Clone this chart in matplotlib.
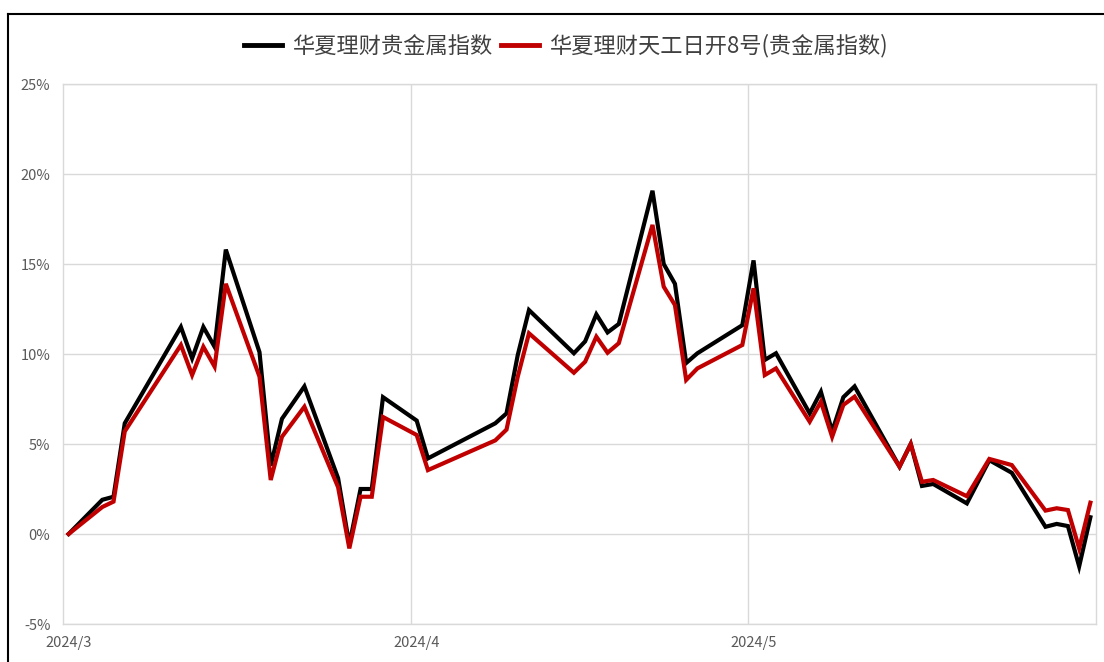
import matplotlib
matplotlib.use("Agg")
import matplotlib.pyplot as plt
import matplotlib.dates as mdates
from matplotlib.lines import Line2D
from matplotlib.ticker import FixedLocator, FuncFormatter
import pandas as pd

plt.rcParams['font.family'] = ['Noto Sans CJK SC', 'DejaVu Sans']

dates = ["2024-03-01", "2024-03-04", "2024-03-05", "2024-03-06", "2024-03-11", "2024-03-12",
         "2024-03-13", "2024-03-14", "2024-03-15", "2024-03-18", "2024-03-19", "2024-03-20",
         "2024-03-22", "2024-03-25", "2024-03-26", "2024-03-27", "2024-03-28", "2024-03-29",
         "2024-04-01", "2024-04-02", "2024-04-08", "2024-04-09", "2024-04-10", "2024-04-11",
         "2024-04-15", "2024-04-16", "2024-04-17", "2024-04-18", "2024-04-19", "2024-04-22",
         "2024-04-23", "2024-04-24", "2024-04-25", "2024-04-26", "2024-04-30", "2024-05-01",
         "2024-05-02", "2024-05-03", "2024-05-06", "2024-05-07", "2024-05-08", "2024-05-09",
         "2024-05-10", "2024-05-14", "2024-05-15", "2024-05-16", "2024-05-17", "2024-05-20",
         "2024-05-22", "2024-05-24", "2024-05-27", "2024-05-28", "2024-05-29", "2024-05-30",
         "2024-05-31"]

index_black = [0, 1.9, 2.07, 6.15, 11.5, 9.76,
               11.5, 10.4, 15.8, 10.1, 3.8, 6.4,
               8.2, 3.1, -0.6, 2.5, 2.5, 7.6,
               6.3, 4.2, 6.15, 6.7, 9.94, 12.44,
               10.04, 10.7, 12.2, 11.2, 11.67, 19.07,
               15.0, 13.9, 9.5, 10.04, 11.6, 15.2,
               9.67, 10.04, 6.7, 7.9, 5.7, 7.6,
               8.2, 3.74, 5.0, 2.67, 2.78, 1.7,
               4.1, 3.4, 0.4, 0.56, 0.44, -1.8,
               0.93]

product_red = [0, 1.5, 1.8, 5.7, 10.5, 8.83,
               10.4, 9.3, 13.9, 8.74, 3.0, 5.4,
               7.07, 2.6, -0.8, 2.07, 2.07, 6.5,
               5.5, 3.55, 5.2, 5.8, 8.74, 11.15,
               8.96, 9.57, 10.96, 10.07, 10.6, 17.17,
               13.74, 12.72, 8.56, 9.2, 10.5, 13.65,
               8.83, 9.2, 6.24, 7.35, 5.4, 7.17,
               7.63, 3.74, 5.0, 2.9, 3.0, 2.1,
               4.17, 3.83, 1.3, 1.43, 1.33, -0.8,
               1.74]

series_names = ["华夏理财贵金属指数", "华夏理财天工日开8号(贵金属指数)"]
month_labels = ["2024-03-01", "2024-04-01", "2024-05-01"]
y_ticks = [-5, 0, 5, 10, 15, 20, 25]

x = mdates.date2num(pd.to_datetime(dates))
months = mdates.date2num(pd.to_datetime(month_labels))

fig = plt.figure(figsize=(11.04, 6.62), dpi=100)
ax = fig.add_axes([63/1104, 1-624/662, (1096-63)/1104, (624-84)/662])

grid_c = '#D9D9D9'
ax.plot(x, index_black, color='#000000', lw=3.0, solid_joinstyle='miter', label=series_names[0], zorder=3)
ax.plot(x, product_red, color='#C00000', lw=3.0, solid_joinstyle='miter', label=series_names[1], zorder=4)

ax.set_xlim(x[0] - 0.5, x[-1] + 0.5)
ax.set_ylim(-5, 25)
ax.set_yticks(y_ticks)
ax.yaxis.set_major_formatter(FuncFormatter(lambda v, p: f"{int(v)}%"))
ax.set_xticks(months)
ax.set_xticklabels([f"{pd.Timestamp(m).year}/{pd.Timestamp(m).month}" for m in month_labels])
ax.xaxis.set_minor_locator(FixedLocator(list(months[1:] - 0.5)))

ax.grid(axis='y', which='major', color=grid_c, lw=1)
ax.grid(axis='x', which='minor', color=grid_c, lw=1)
ax.grid(axis='x', which='major', visible=False)
ax.tick_params(axis='both', which='both', length=0, labelsize=10.5, labelcolor='#595959')
ax.tick_params(axis='y', pad=9)
ax.tick_params(axis='x', pad=9)
for s in ax.spines.values():
    s.set_color(grid_c)
    s.set_linewidth(1)
ax.set_axisbelow(True)

leg = fig.legend(loc='center', bbox_to_anchor=(566/1104, 1-46/662), ncol=2, frameon=False,
                 fontsize=16, handlelength=1.7, handletextpad=0.45, columnspacing=0.4)
for t in leg.get_texts():
    t.set_color('#404040')
for h in leg.get_lines():
    h.set_linewidth(3.5)

# outer frame (left and top edges visible)
fig.add_artist(Line2D([8/1104, 8/1104], [0, 1-14/662], color='black', lw=1.5, transform=fig.transFigure))
fig.add_artist(Line2D([8/1104, 1], [1-14/662, 1-14/662], color='black', lw=1.5, transform=fig.transFigure))

fig.savefig('out.png', dpi=100)
